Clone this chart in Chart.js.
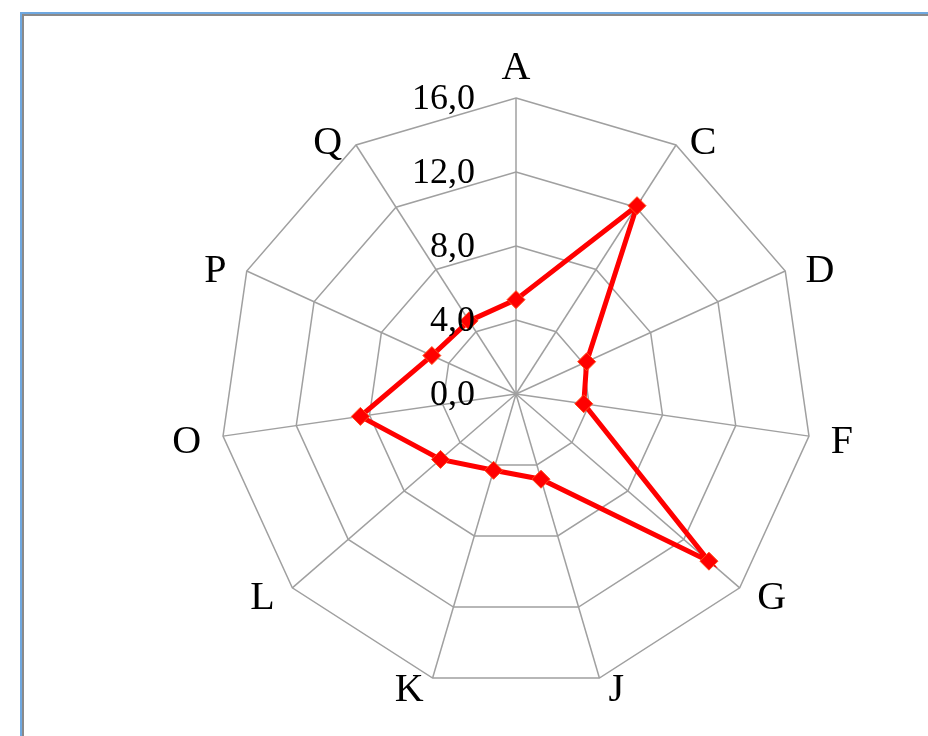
<!DOCTYPE html>
<html><head><meta charset="utf-8">
<script src="https://cdn.jsdelivr.net/npm/chart.js@4.4.1/dist/chart.umd.min.js"></script>
<style>
html,body{margin:0;padding:0;background:#fff;width:928px;height:736px;overflow:hidden;}
#frame{position:absolute;left:20px;top:12px;width:940px;height:760px;border-top:2px solid #6fa8e0;border-left:2px solid #6fa8e0;}
#frame2{position:absolute;left:0;top:0;right:0;bottom:0;border-top:2px solid #8a8a8a;border-left:2px solid #8a8a8a;}
#c{position:absolute;left:0;top:0;}
</style></head><body>
<div id="frame"><div id="frame2"></div></div>
<canvas id="c" width="928" height="736"></canvas>
<script>
const categories = ['A','C','D','F','G','J','K','L','O','P','Q'];
const seriesValues = [5.1, 12.1, 4.2, 3.7, 13.8, 4.8, 4.3, 5.4, 8.5, 5.0, 4.7];
const tickValues = [0, 4, 8, 12, 16];
const tickLabels = ['0,0', '4,0', '8,0', '12,0', '16,0'];

const labelPlugin = {
  id: 'labelPlugin',
  afterDraw(chart) {
    const s = chart.scales.r;
    const ctx = chart.ctx;
    ctx.save();
    ctx.fillStyle = '#000';
    ctx.textBaseline = 'middle';
    ctx.textAlign = 'center';
    ctx.font = '40px "Liberation Serif"';
    chart.data.labels.forEach((lab, i) => {
      const ang = s.getIndexAngle(i);
      const sn = Math.sin(ang), cs = Math.cos(ang);
      const v = s.getPointPosition(i, s.drawingArea);
      const w = ctx.measureText(lab).width;
      let x = v.x, y = v.y + 3;
      if (Math.abs(sn) > 0.05) x += Math.sign(sn) * (4 + 18 * Math.abs(sn) + w / 2);
      if (cs > 0.99) y -= 33;
      else if (cs > 0) y -= 5 * cs;
      else y += 10 * Math.sqrt(-cs);
      ctx.fillText(lab, x, y);
    });
    ctx.font = '36px "Liberation Serif"';
    ctx.textAlign = 'right';
    tickValues.forEach((val, k) => {
      const d = s.getDistanceFromCenterForValue(val);
      ctx.fillText(tickLabels[k], s.xCenter - 41, s.yCenter - d + 2);
    });
    ctx.restore();
  }
};

new Chart(document.getElementById('c'), {
  type: 'radar',
  data: {
    labels: categories,
    datasets: [{
      data: seriesValues,
      borderColor: '#ff0000',
      borderWidth: 5,
      backgroundColor: 'rgba(0,0,0,0)',
      fill: false,
      tension: 0,
      pointStyle: 'rectRot',
      pointRadius: 9,
      pointBackgroundColor: '#ff0000',
      pointBorderColor: '#ff4a1a',
      pointBorderWidth: 1
    }]
  },
  options: {
    responsive: false,
    devicePixelRatio: 1,
    animation: false,
    layout: { padding: { left: 220, right: 116, top: 98, bottom: 46 } },
    plugins: { legend: { display: false }, tooltip: { enabled: false } },
    scales: {
      r: {
        min: 0, max: 16,
        ticks: { display: false, stepSize: 4 },
        grid: { color: '#a0a0a0', lineWidth: 1.5 },
        angleLines: { color: '#a0a0a0', lineWidth: 1.5 },
        pointLabels: { display: false }
      }
    }
  },
  plugins: [labelPlugin]
});
</script>
</body></html>
